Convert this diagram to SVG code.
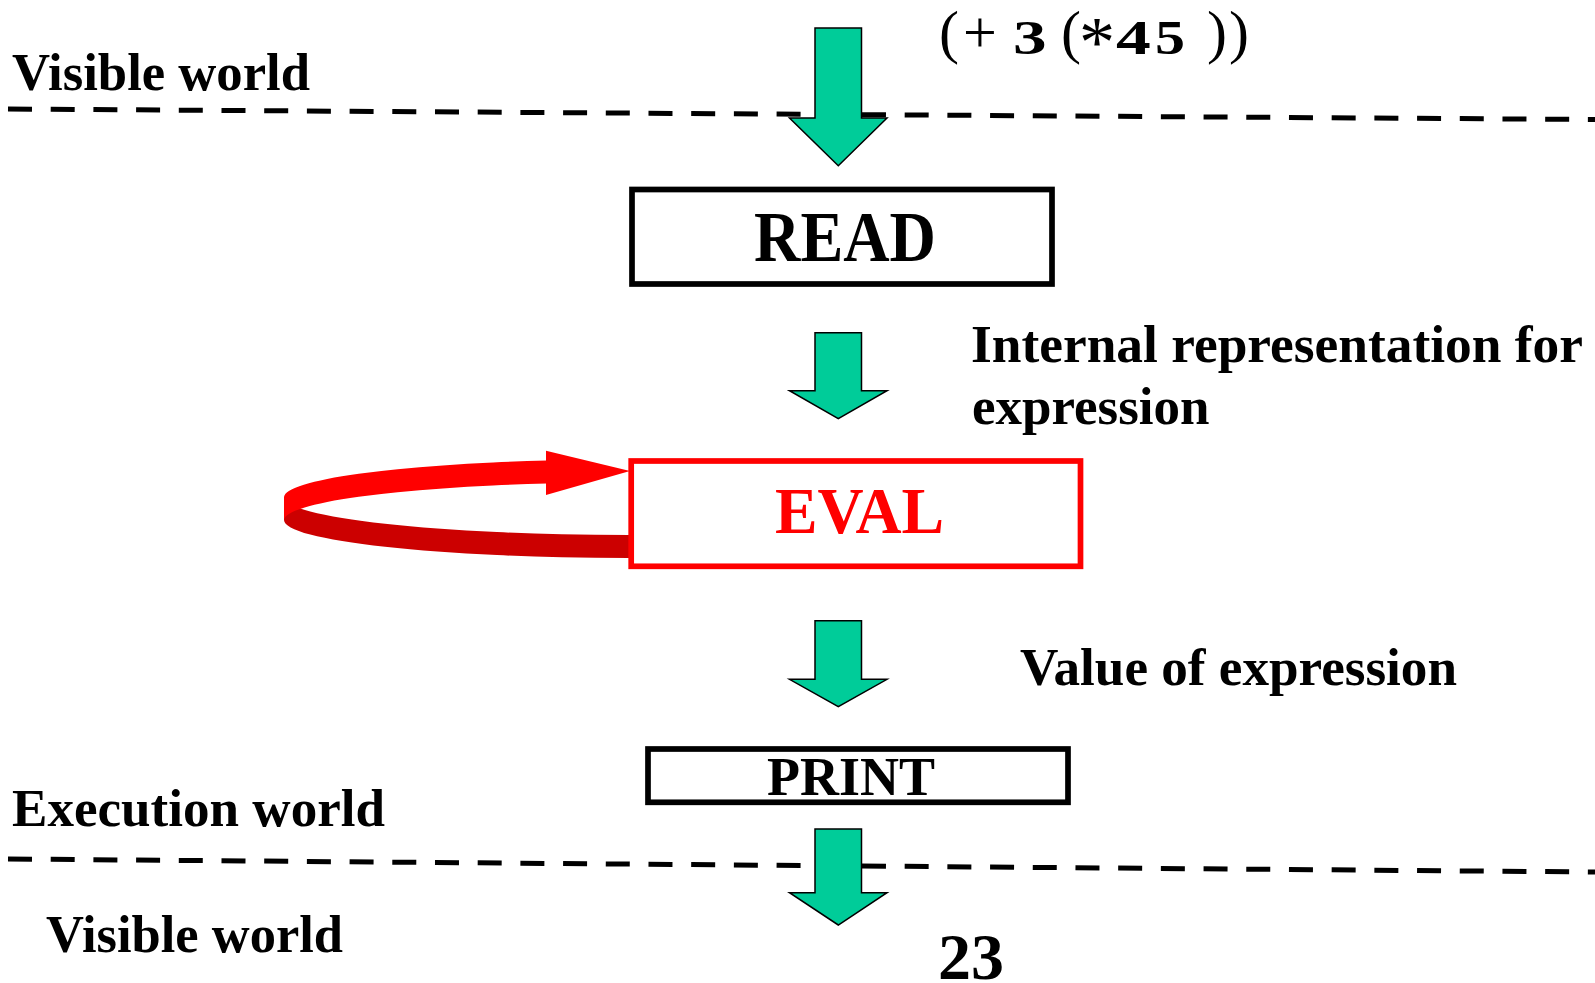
<svg xmlns="http://www.w3.org/2000/svg" width="1595" height="983" viewBox="0 0 1595 983">
<style>
  .t { font-family: "Liberation Serif", "Times New Roman", serif; font-weight: bold; fill: #000; }
  .r { font-family: "Liberation Serif", "Times New Roman", serif; font-weight: normal; fill: #000; }
  .dash { stroke: #000; stroke-width: 5; stroke-dasharray: 24 18.7; fill: none; }
  .garrow { fill: #00CC99; stroke: #000; stroke-width: 1.5; stroke-linejoin: miter; }
  .box { fill: #fff; stroke: #000; stroke-width: 5.7; }
</style>
<rect width="1595" height="983" fill="#fff"/>

<g id="world-lines">
  <line class="dash" x1="8" y1="109" x2="1595" y2="119.5"/>
  <line class="dash" x1="8" y1="859" x2="1595" y2="872"/>
</g>

<g id="labels">
  <text class="t" x="12" y="90" font-size="53" textLength="298" lengthAdjust="spacingAndGlyphs">Visible world</text>
  <text class="t" x="12" y="826" font-size="53" textLength="373" lengthAdjust="spacingAndGlyphs">Execution world</text>
  <text class="t" x="46" y="952" font-size="53" textLength="297" lengthAdjust="spacingAndGlyphs">Visible world</text>
</g>

<g id="expr">
  <text class="r" x="939" y="51.5" font-size="60">(</text>
  <text class="r" x="963" y="51.5" font-size="60">+</text>
  <text class="t" font-size="48" transform="translate(1013 54) scale(1.4 1)">3</text>
  <text class="r" x="1061" y="51.5" font-size="60">(</text>
  <text class="r" x="1079" y="66" font-size="72">*</text>
  <text class="t" font-size="48" transform="translate(1116 54) scale(1.45 1)">4</text>
  <text class="t" font-size="48" transform="translate(1155 54) scale(1.25 1)">5</text>
  <text class="r" x="1207" y="51.5" font-size="60">)</text>
  <text class="r" x="1229" y="51.5" font-size="60">)</text>
</g>

<g id="connectors">
  <polygon class="garrow" points="815,28 861.5,28 861.5,118 887,118 838.3,165.7 789.5,118 815,118"/>
  <polygon class="garrow" points="815,332.7 861.5,332.7 861.5,390.7 887,390.7 838.3,418.7 789.5,390.7 815,390.7"/>
  <polygon class="garrow" points="815,620.7 861.5,620.7 861.5,679.3 887,679.3 838.3,706.7 789.5,679.3 815,679.3"/>
  <polygon class="garrow" points="815,829 861.5,829 861.5,892.7 887,892.7 838.3,925 789.5,892.7 815,892.7"/>
  <g id="eval-loop">
    <path d="M 284 497 A 345 38 0 0 0 629 535 L 636 535 L 636 558 L 629 558 A 345 38 0 0 1 284 520 Z" fill="#CC0000"/>
    <path d="M 284 497 A 345 38 0 0 1 547 460.5 L 547 483.5 A 345 38 0 0 0 284 520 Z" fill="#FF0000"/>
    <polygon points="546,450.7 630,471 546,495" fill="#FF0000"/>
  </g>
</g>

<g id="edge-labels">
  <text class="t" x="971" y="362" font-size="53" textLength="612" lengthAdjust="spacingAndGlyphs">Internal representation for</text>
  <text class="t" x="972" y="424" font-size="53">expression</text>
  <text class="t" x="1020" y="685" font-size="53" textLength="437" lengthAdjust="spacingAndGlyphs">Value of expression</text>
  <text class="t" x="938" y="979" font-size="66">23</text>
</g>

<g id="read">
  <rect class="box" x="632" y="189.5" width="420" height="94.5"/>
  <text class="t" x="754" y="261" font-size="72" textLength="182" lengthAdjust="spacingAndGlyphs">READ</text>
</g>

<g id="eval">
  <rect class="box" x="631.2" y="461" width="449.3" height="105.3" style="stroke:#FF0000"/>
  <text class="t" x="775" y="532.7" font-size="65" textLength="169" lengthAdjust="spacingAndGlyphs" style="fill:#FF0000">EVAL</text>
</g>

<g id="print">
  <rect class="box" x="648" y="749" width="420" height="53.3"/>
  <text class="t" x="767" y="795" font-size="55" textLength="168" lengthAdjust="spacingAndGlyphs">PRINT</text>
</g>
</svg>
